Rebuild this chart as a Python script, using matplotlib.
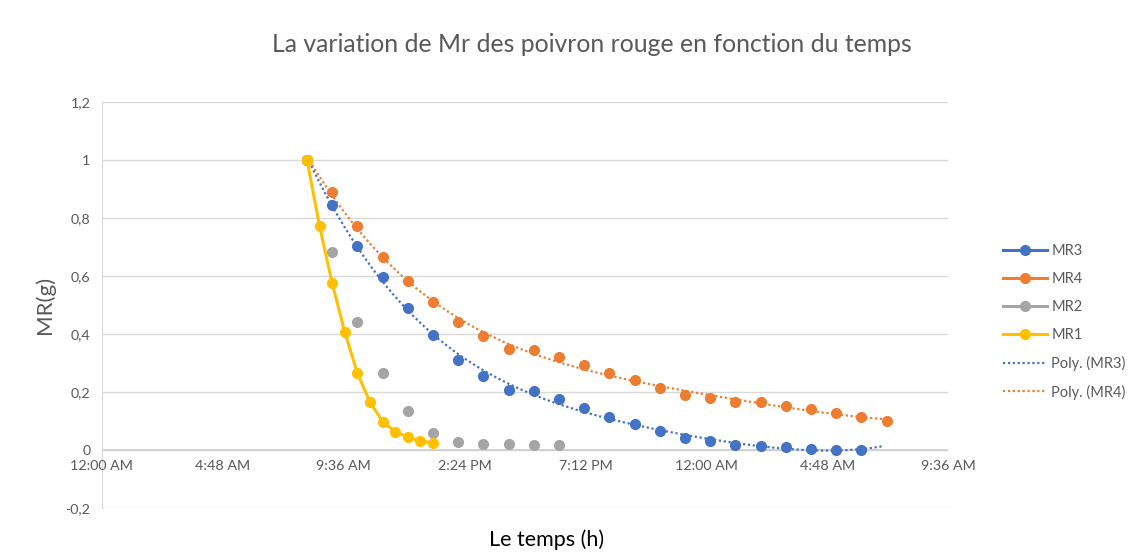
import matplotlib.pyplot as plt
from matplotlib.lines import Line2D
import numpy as np

plt.rcParams['font.family'] = ['Lato', 'DejaVu Sans']

# Clock hour of the first measurement (about 8:09 AM)
start_h = 8.15

# Elapsed time in hours
t_hourly = [0, 1, 2, 3, 4, 5, 6, 7, 8, 9, 10, 11, 12, 13, 14, 15, 16, 17, 18, 19, 20, 21, 22, 23]
t_half = [0, 0.5, 1, 1.5, 2, 2.5, 3, 3.5, 4, 4.5, 5]

mr3 = [1, 0.845, 0.704, 0.595, 0.491, 0.397, 0.312, 0.256, 0.207, 0.205, 0.175, 0.144,
       0.115, 0.089, 0.066, 0.043, 0.030, 0.017, 0.015, 0.009, 0.003, 0.001, 0.0]
mr4 = [1, 0.889, 0.773, 0.667, 0.584, 0.509, 0.442, 0.393, 0.349, 0.345, 0.320, 0.292,
       0.264, 0.240, 0.215, 0.191, 0.180, 0.166, 0.164, 0.153, 0.140, 0.128, 0.114, 0.101]
mr2 = [1, 0.683, 0.440, 0.267, 0.134, 0.059, 0.028, 0.021, 0.019, 0.017, 0.018]
mr1 = [1, 0.771, 0.575, 0.406, 0.265, 0.165, 0.098, 0.063, 0.045, 0.031, 0.024]

x_ticks = [0, 4.8, 9.6, 14.4, 19.2, 24, 28.8, 33.6]
x_labels = ['12:00 AM', '4:48 AM', '9:36 AM', '2:24 PM', '7:12 PM', '12:00 AM', '4:48 AM', '9:36 AM']
y_ticks = [-0.2, 0, 0.2, 0.4, 0.6, 0.8, 1, 1.2]
y_labels = ['-0,2', '0', '0,2', '0,4', '0,6', '0,8', '1', '1,2']

c3, c4, c2, c1 = '#4472C4', '#ED7D31', '#A5A5A5', '#FFC000'
grey = '#595959'

x3 = start_h + np.array(t_hourly[:len(mr3)])
x4 = start_h + np.array(t_hourly[:len(mr4)])
x2 = start_h + np.array(t_hourly[:len(mr2)])
x1 = start_h + np.array(t_half)

fig = plt.figure(figsize=(11.29, 5.54), dpi=100)
ax = fig.add_axes([0.090, 0.083, 0.750, 0.733])

# Polynomial trend lines
p3 = np.polyfit(x3, mr3, 4)
xx3 = np.linspace(x3[0], x3[-1] + 0.9, 200)
p4 = np.polyfit(x4, mr4, 4)
xx4 = np.linspace(x4[0], x4[-1], 200)
ax.plot(xx3, np.polyval(p3, xx3), color=c3, lw=1.6, ls=(0, (1, 1.2)), zorder=3)
ax.plot(xx4, np.polyval(p4, xx4), color=c4, lw=1.6, ls=(0, (1, 1.2)), zorder=3)

ax.plot(x3, mr3, 'o', color=c3, ms=7, zorder=4)
ax.plot(x4, mr4, 'o', color=c4, ms=7, zorder=4)
ax.plot(x2, mr2, 'o', color=c2, ms=7, zorder=4)
ax.plot(x1, mr1, 'o-', color=c1, ms=7, lw=2.2, zorder=5)

ax.set_xlim(0, 33.6)
ax.set_ylim(-0.2, 1.2)
ax.set_yticks(y_ticks)
ax.set_yticklabels(y_labels)
ax.set_xticks([])
for xt, lab in zip(x_ticks, x_labels):
    ax.text(xt, -0.035, lab, ha='center', va='top', fontsize=10.3, color=grey)

ax.grid(axis='y', color='#D9D9D9', lw=1)
ax.axhline(0, color='#D0D0D0', lw=1.3, zorder=1)
for s in ['top', 'right', 'bottom']:
    ax.spines[s].set_visible(False)
ax.spines['left'].set_color('#D9D9D9')
ax.tick_params(axis='y', length=0, labelsize=10.3, labelcolor=grey, pad=8)
ax.set_axisbelow(True)

fig.text(0.524, 0.919, 'La variation de Mr des poivron rouge en fonction du temps',
         ha='center', va='center', fontsize=17.8, color=grey)
fig.text(0.040, 0.449, 'MR(g)', rotation=90, ha='center', va='center', fontsize=16, color=grey)
fig.text(0.484, 0.025, 'Le temps (h)', ha='center', va='center', fontsize=15.5, color='black')

handles = [
    Line2D([], [], color=c3, marker='o', lw=2.2, ms=7),
    Line2D([], [], color=c4, marker='o', lw=2.2, ms=7),
    Line2D([], [], color=c2, marker='o', lw=2.2, ms=7),
    Line2D([], [], color=c1, marker='o', lw=2.2, ms=7),
    Line2D([], [], color=c3, lw=1.6, ls=(0, (1, 1.2))),
    Line2D([], [], color=c4, lw=1.6, ls=(0, (1, 1.2))),
]
labels = ['MR3', 'MR4', 'MR2', 'MR1', 'Poly. (MR3)', 'Poly. (MR4)']
fig.legend(handles, labels, loc='center left', bbox_to_anchor=(0.877, 0.419),
           frameon=False, fontsize=10.5, labelcolor=grey, handlelength=3.0,
           labelspacing=0.95, handletextpad=0.3)

plt.savefig('out.png', dpi=100)
